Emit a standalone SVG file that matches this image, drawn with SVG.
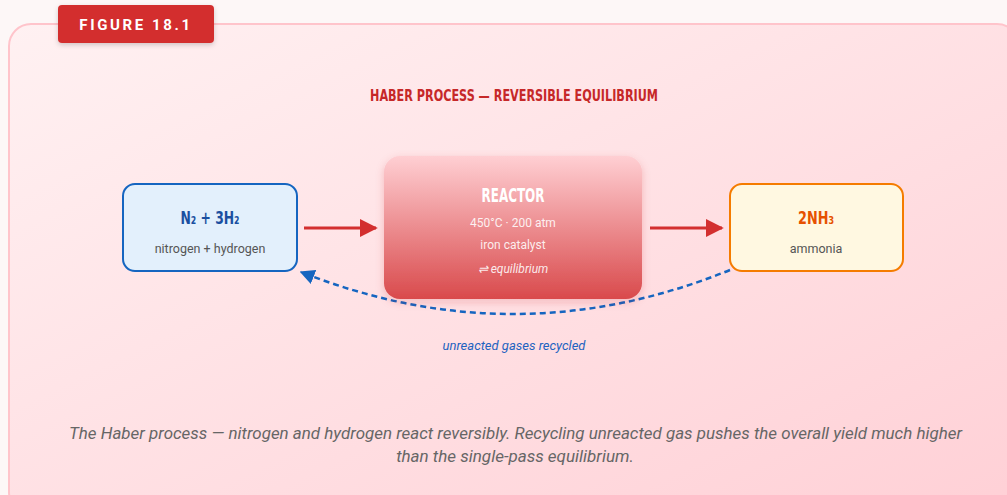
<svg xmlns="http://www.w3.org/2000/svg" width="1007" height="495" viewBox="0 0 1007 495">
<defs>
<linearGradient id="cardGrad" x1="0" y1="0" x2="1" y2="1">
<stop offset="0" stop-color="#fff1f2"/>
<stop offset="1" stop-color="#ffd0d6"/>
</linearGradient>
<linearGradient id="reactorGrad" x1="0" y1="0" x2="0" y2="1">
<stop offset="0" stop-color="#ffcfd3"/>
<stop offset="1" stop-color="#d94a4c"/>
</linearGradient>
<filter id="shadow" x="-20%" y="-20%" width="140%" height="160%">
<feDropShadow dx="0" dy="2" stdDeviation="2.5" flood-color="#000" flood-opacity="0.18"/>
</filter>
<filter id="soft" x="-20%" y="-20%" width="140%" height="160%">
<feDropShadow dx="0" dy="3" stdDeviation="4" flood-color="#c62828" flood-opacity="0.2"/>
</filter>
<marker id="redHead" viewBox="0 0 10 10" refX="9" refY="5" markerWidth="6" markerHeight="6" markerUnits="strokeWidth" orient="auto">
<path d="M0,0 L10,5 L0,10 z" fill="#d32f2f"/>
</marker>
<marker id="blueHead" viewBox="0 0 10 10" refX="9" refY="5" markerWidth="6" markerHeight="6" markerUnits="strokeWidth" orient="auto">
<path d="M0,0 L10,5 L0,10 z" fill="#1565c0"/>
</marker>
<style>
.cond{font-family:"DejaVu Sans Condensed","Roboto",sans-serif;font-weight:bold;}
.body{font-family:"Roboto","Liberation Sans",sans-serif;}
.sub{font-size:12.5px;fill:#555;}
.rtxt{font-size:12px;fill:#fff;fill-opacity:0.88;}
.node{stroke-width:2;}
.flow{stroke:#d32f2f;stroke-width:3;fill:none;}
.recycle{stroke:#1565c0;stroke-width:2.5;stroke-dasharray:6 4;fill:none;}
</style>
</defs>
<rect width="1007" height="495" fill="#fdf7f7"/>
<rect x="9" y="24" width="1010" height="490" rx="22" fill="url(#cardGrad)" stroke="#ffc4cb" stroke-width="2"/>
<g id="badge">
<rect x="58" y="5" width="156" height="38" rx="4" fill="#d32f2f" filter="url(#shadow)"/>
<text x="136" y="30" text-anchor="middle" font-family="Roboto, 'Liberation Sans', sans-serif" font-weight="bold" font-size="15" letter-spacing="2.6" fill="#fff">FIGURE 18.1</text>
</g>
<text id="title" x="514" y="101" text-anchor="middle" class="cond" font-size="16" fill="#c62828" textLength="288" lengthAdjust="spacingAndGlyphs">HABER PROCESS — REVERSIBLE EQUILIBRIUM</text>
<g id="connectors">
<line x1="304" y1="228" x2="376" y2="228" class="flow" marker-end="url(#redHead)"/>
<line x1="650" y1="228" x2="722" y2="228" class="flow" marker-end="url(#redHead)"/>
<path d="M730,270 Q515,357 301,272" class="recycle" marker-end="url(#blueHead)"/>
<text x="514" y="350" text-anchor="middle" class="body" font-style="italic" font-size="13" fill="#1e63c0">unreacted gases recycled</text>
</g>
<g id="reactants">
<rect x="123" y="184" width="174" height="87" rx="12" fill="#e3f0fc" stroke="#1565c0" class="node"/>
<text x="210" y="224" text-anchor="middle" class="cond" font-size="18" fill="#1a4fa0" textLength="59" lengthAdjust="spacingAndGlyphs">N₂ + 3H₂</text>
<text x="210" y="253" text-anchor="middle" class="body sub">nitrogen + hydrogen</text>
</g>
<g id="reactor">
<rect x="384" y="156" width="258" height="143" rx="16" fill="url(#reactorGrad)" filter="url(#soft)"/>
<text x="513" y="202" text-anchor="middle" class="cond" font-size="19" fill="#fff" textLength="63" lengthAdjust="spacingAndGlyphs">REACTOR</text>
<text x="513" y="227" text-anchor="middle" class="body rtxt">450°C · 200 atm</text>
<text x="513" y="249" text-anchor="middle" class="body rtxt">iron catalyst</text>
<text x="513" y="273" text-anchor="middle" class="body rtxt" font-style="italic">⇌ equilibrium</text>
</g>
<g id="products">
<rect x="730" y="184" width="173" height="87" rx="12" fill="#fff8e1" stroke="#f57c00" class="node"/>
<text x="816" y="224" text-anchor="middle" class="cond" font-size="18" fill="#e65100" textLength="36" lengthAdjust="spacingAndGlyphs">2NH₃</text>
<text x="816" y="253" text-anchor="middle" class="body sub">ammonia</text>
</g>
<g id="caption" class="body" font-style="italic" font-size="17" fill="#666" text-anchor="middle">
<text x="515.5" y="439" textLength="893" lengthAdjust="spacingAndGlyphs">The Haber process — nitrogen and hydrogen react reversibly. Recycling unreacted gas pushes the overall yield much higher</text>
<text x="515" y="462">than the single-pass equilibrium.</text>
</g>
</svg>
